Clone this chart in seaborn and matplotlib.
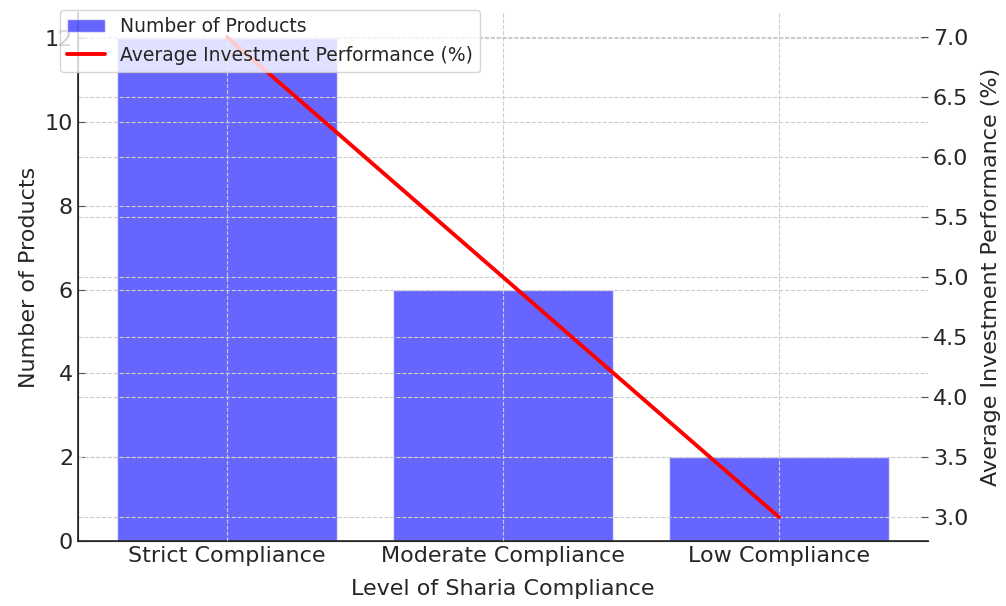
import seaborn as sns
import matplotlib.pyplot as plt
import pandas as pd

# chart data
categories = ['Strict Compliance', 'Moderate Compliance', 'Low Compliance']
num_products = [12, 6, 2]
avg_performance = [7.0, 5.0, 3.0]

df = pd.DataFrame({'level': categories,
                   'products': num_products,
                   'performance': avg_performance})

sns.set_style('white')
plt.rcParams['font.family'] = ['DejaVu Sans']
plt.rcParams['text.color'] = '#262626'
plt.rcParams['axes.labelcolor'] = '#262626'
plt.rcParams['xtick.color'] = '#262626'
plt.rcParams['ytick.color'] = '#262626'

fig = plt.figure(figsize=(10.06, 6.06), dpi=100)
ax1 = fig.add_axes([0.0775, 0.107, 0.845, 0.8715])

sns.barplot(data=df, x='level', y='products', color='blue', alpha=0.6,
            saturation=1, width=0.8, label='Number of Products', ax=ax1)
ax1.set_xlabel('Level of Sharia Compliance', fontsize=16, labelpad=9)
ax1.set_ylabel('Number of Products', fontsize=16)
ax1.set_yticks([0, 2, 4, 6, 8, 10, 12])
ax1.set_ylim(0, 12.6)
ax1.set_xlim(-0.54, 2.54)
ax1.set_axisbelow(False)
ax1.grid(True, linestyle='--', color='#cccccc', linewidth=0.8)
ax1.tick_params(axis='both', direction='in', length=5, labelsize=16,
                color='#555555')

ax2 = ax1.twinx()
sns.lineplot(data=df, x='level', y='performance', color='red', linewidth=2.8,
             sort=False, label='Average Investment Performance (%)', ax=ax2)
ax2.set_ylabel('Average Investment Performance (%)', fontsize=16, labelpad=9)
ax2.set_ylim(2.8, 7.2)
ax2.grid(True, axis='y', linestyle='--', color='#cccccc', linewidth=0.8)
ax2.tick_params(axis='y', direction='in', length=5, labelsize=16,
                color='#555555')

for ax in (ax1, ax2):
    ax.spines['top'].set_visible(False)
    ax.spines['right'].set_visible(False)
ax1.spines['left'].set_color('#222222')
ax1.spines['bottom'].set_color('#222222')
ax1.spines['left'].set_linewidth(1.2)
ax1.spines['bottom'].set_linewidth(1.2)

h1, l1 = ax1.get_legend_handles_labels()
h2, l2 = ax2.get_legend_handles_labels()
if ax1.get_legend():
    ax1.get_legend().remove()
if ax2.get_legend():
    ax2.get_legend().remove()
fig.legend(h1 + h2, l1 + l2, loc='upper left', bbox_to_anchor=(0.0596, 0.9835),
           borderaxespad=0, fontsize=13.5, framealpha=0.8)

fig.savefig('out.png', dpi=100)
